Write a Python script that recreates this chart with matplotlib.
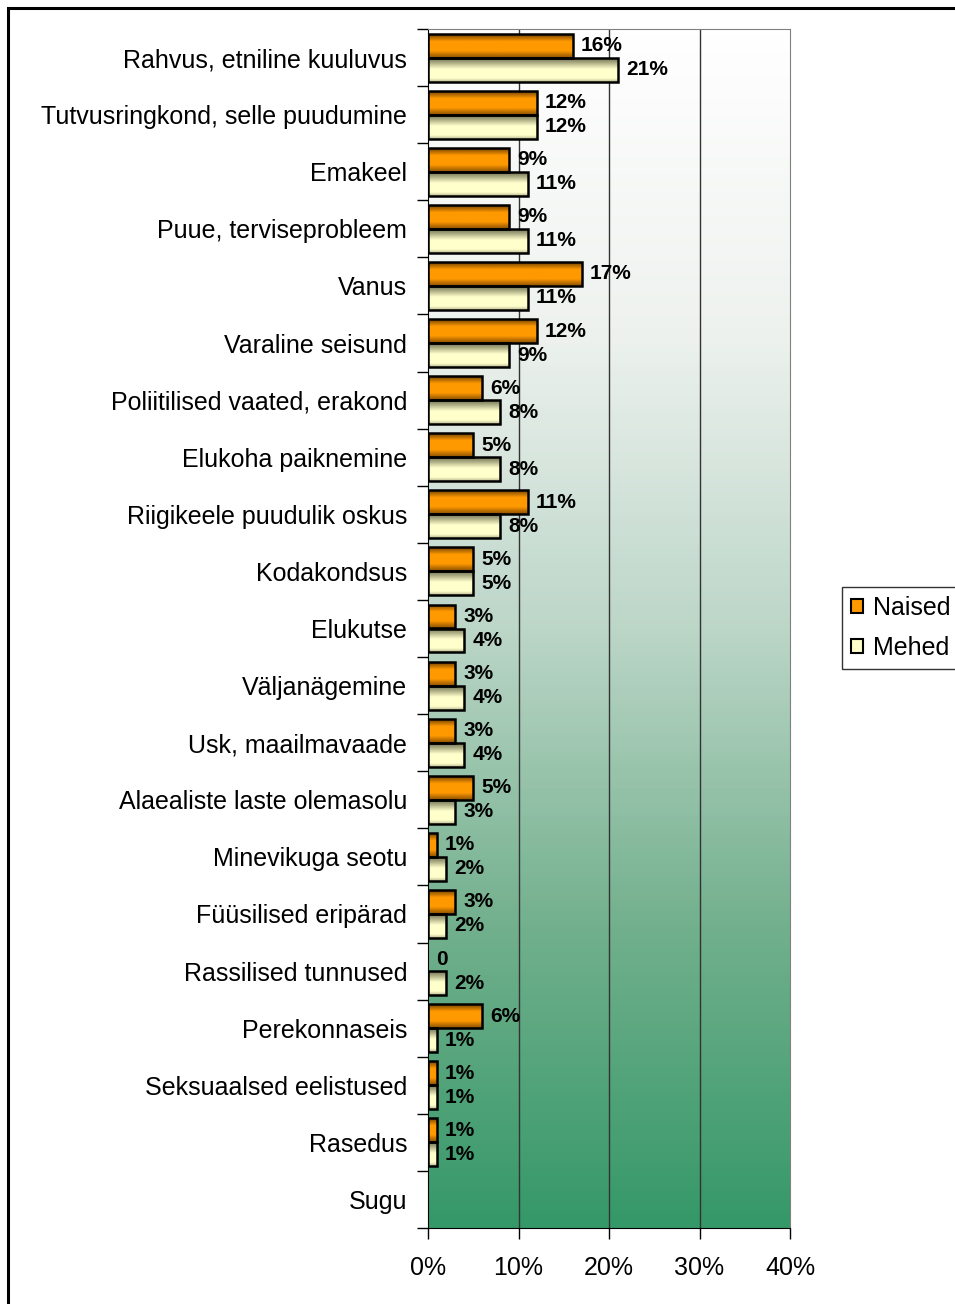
import numpy as np
import matplotlib
matplotlib.use("Agg")
import matplotlib.pyplot as plt
from matplotlib.colors import LinearSegmentedColormap
from matplotlib.patches import Patch, Rectangle

plt.rcParams['font.family'] = ['Liberation Sans', 'DejaVu Sans']

categories = [
    "Rahvus, etniline kuuluvus", "Tutvusringkond, selle puudumine", "Emakeel",
    "Puue, terviseprobleem", "Vanus", "Varaline seisund",
    "Poliitilised vaated, erakond", "Elukoha paiknemine",
    "Riigikeele puudulik oskus", "Kodakondsus", "Elukutse", "Väljanägemine",
    "Usk, maailmavaade", "Alaealiste laste olemasolu", "Minevikuga seotu",
    "Füüsilised eripärad", "Rassilised tunnused", "Perekonnaseis",
    "Seksuaalsed eelistused", "Rasedus", "Sugu",
]
# None = no bar / no label
naised = [16, 12, 9, 9, 17, 12, 6, 5, 11, 5, 3, 3, 3, 5, 1, 3, 0, 6, 1, 1, None]
mehed = [21, 12, 11, 11, 11, 9, 8, 8, 8, 5, 4, 4, 4, 3, 2, 2, 2, 1, 1, 1, None]
xticks = [0, 10, 20, 30, 40]

orange = '#FF9900'
cream = '#FFFFCC'

fig = plt.figure(figsize=(9.55, 13.04), dpi=100)
ax = fig.add_axes([428 / 955, 1 - 1228 / 1304, 362 / 955, 1199 / 1304])

# background gradient (white top -> green bottom)
bg_cmap = LinearSegmentedColormap.from_list('bg', [
    (0.0, '#359868'), (0.25, '#72b08d'), (0.5, '#bcd6c8'),
    (0.75, '#eef2ef'), (1.0, '#ffffff')])
grad = np.linspace(0, 1, 256).reshape(-1, 1)
ax.imshow(grad, extent=[0, 1, 0, 1], transform=ax.transAxes, cmap=bg_cmap,
          origin='lower', aspect='auto', zorder=0)

ypos = np.arange(len(categories))
h = 0.42

orange_cmap = LinearSegmentedColormap.from_list('or', [
    (0.0, '#6e4000'), (0.3, '#FF9900'), (0.7, '#FF9900'), (1.0, '#8a5000')])
cream_cmap = LinearSegmentedColormap.from_list('cr', [
    (0.0, '#6f6f50'), (0.45, '#FFFFCC'), (0.85, '#FFFFCC'), (1.0, '#b8b890')])
bar_grad = np.linspace(0, 1, 64).reshape(-1, 1)


def draw_series(vals, offset, color, cmap):
    idx = [i for i, v in enumerate(vals) if v]
    w = [vals[i] for i in idx]
    yy = ypos[idx] + offset
    bars = ax.barh(yy, w, height=h, color=color, zorder=2, linewidth=0)
    for p in bars.patches:
        x0, y0 = p.get_x(), p.get_y()
        im = ax.imshow(bar_grad, extent=[x0, x0 + p.get_width(), y0 + p.get_height(), y0],
                       cmap=cmap, origin='upper', aspect='auto', zorder=2.1)
        im.set_clip_path(p)
    ax.barh(yy, w, height=h, fill=False, edgecolor='black', linewidth=1.8, zorder=3)
    for i, v in enumerate(vals):
        if v is None:
            continue
        lab = '0' if v == 0 else f'{v}%'
        ax.annotate(lab, xy=(v, ypos[i] + offset), xytext=(8, 0),
                    textcoords='offset pixels', va='center', ha='left',
                    fontsize=15, fontweight='bold', zorder=4)


draw_series(naised, -h / 2, orange, orange_cmap)
draw_series(mehed, h / 2, cream, cream_cmap)

ax.set_xlim(0, 40)
ax.set_ylim(len(categories) - 0.5, -0.5)

for x in xticks[1:-1]:
    ax.axvline(x, color='#333333', linewidth=1.0, zorder=1)

ax.set_xticks(xticks)
ax.set_xticklabels([f'{x}%' for x in xticks], fontsize=18)
ax.tick_params(axis='x', direction='out', length=8, width=1, pad=12)

ax.set_yticks(np.arange(len(categories) + 1) - 0.5)
ax.set_yticklabels([])
ax.set_yticks(ypos, minor=True)
ax.set_yticklabels(categories, minor=True, fontsize=18)
ax.tick_params(axis='y', which='major', direction='out', length=8, width=1)
ax.tick_params(axis='y', which='minor', length=0, pad=15)

ax.spines['left'].set_color('black')
ax.spines['bottom'].set_color('black')
ax.spines['top'].set_color('#808080')
ax.spines['right'].set_color('#808080')

handles = [Patch(facecolor=orange, edgecolor='black', linewidth=1.5, label='Naised'),
           Patch(facecolor=cream, edgecolor='black', linewidth=1.5, label='Mehed')]
leg = fig.legend(handles=handles, loc='upper left',
                 bbox_to_anchor=(842 / 955, 1 - 587 / 1304),
                 fontsize=18, fancybox=False, edgecolor='black',
                 handlelength=0.5, handleheight=0.5, handletextpad=0.4,
                 borderpad=0.35, labelspacing=0.65, borderaxespad=0)
leg.get_frame().set_linewidth(1.0)

# outer chart frame (extends past right/bottom edge)
fig.patches.append(Rectangle((8 / 955, -0.05), 2, 1 - 8 / 1304 + 0.05,
                             transform=fig.transFigure, fill=False,
                             edgecolor='black', linewidth=2.2))

fig.savefig('out.png', dpi=100)
